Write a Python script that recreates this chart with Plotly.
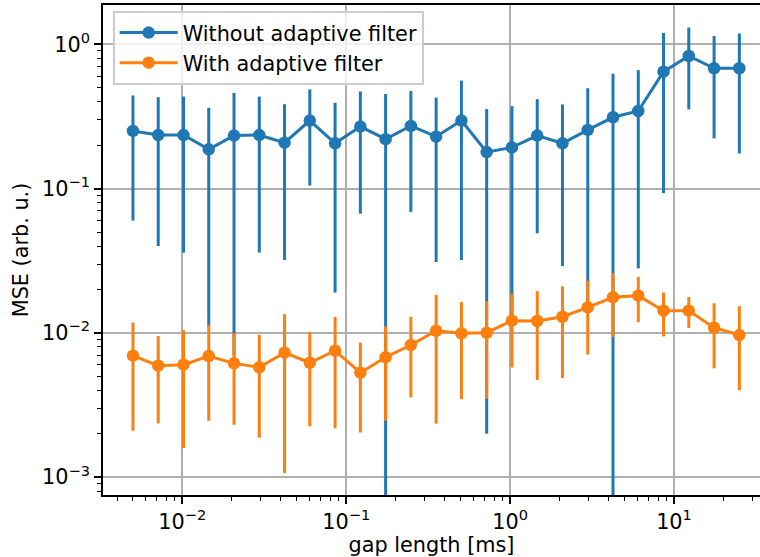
import plotly.graph_objects as go

gap_ms = [0.005, 0.00713, 0.01017, 0.0145, 0.02068, 0.02949, 0.04206, 0.05998,
          0.08554, 0.1220, 0.1740, 0.2481, 0.3538, 0.5046, 0.7196, 1.026,
          1.464, 2.087, 2.977, 4.245, 6.054, 8.633, 12.31, 17.56, 25.04]

mse_without = [0.251, 0.235, 0.235, 0.187, 0.233, 0.235, 0.208, 0.296, 0.206,
               0.269, 0.220, 0.272, 0.229, 0.296, 0.179, 0.193, 0.233, 0.206,
               0.255, 0.312, 0.345, 0.646, 0.830, 0.682, 0.682]
std_without = [0.191, 0.195, 0.199, 0.176, 0.226, 0.199, 0.176, 0.191, 0.187,
               0.202, 0.232, 0.203, 0.198, 0.264, 0.177, 0.180, 0.184, 0.177,
               0.241, 0.314, 0.317, 0.553, 0.476, 0.459, 0.507]

mse_with = [0.00695, 0.00593, 0.00602, 0.00692, 0.00615, 0.00578, 0.00729,
            0.00621, 0.00753, 0.00530, 0.00678, 0.00824, 0.01035, 0.00993,
            0.01003, 0.01215, 0.01209, 0.01294, 0.01503, 0.01765, 0.01812,
            0.01425, 0.01425, 0.01086, 0.00966]
std_with = [0.00485, 0.00357, 0.00443, 0.00446, 0.00384, 0.00390, 0.00622,
            0.00396, 0.00535, 0.00326, 0.00432, 0.00467, 0.00800, 0.00645,
            0.00654, 0.00639, 0.00737, 0.00808, 0.00795, 0.00828, 0.00628,
            0.00480, 0.00346, 0.00518, 0.00565]

names = ["Without adaptive filter", "With adaptive filter"]
colors = ["#1f77b4", "#ff7f0e"]

y_tickvals = [0.001, 0.01, 0.1, 1]
y_ticktext = ["10<sup>\u22123</sup>", "10<sup>\u22122</sup>", "10<sup>\u22121</sup>", "10<sup>0</sup>"]
x_tickvals = [0.01, 0.1, 1, 10]
x_ticktext = ["10<sup>\u22122</sup>", "10<sup>\u22121</sup>", "10<sup>0</sup>", "10<sup>1</sup>"]

FONT = "DejaVu Sans"
FS = 20.8

fig = go.Figure()
for name, col, y, s in [(names[0], colors[0], mse_without, std_without),
                        (names[1], colors[1], mse_with, std_with)]:
    fig.add_trace(go.Scatter(
        x=gap_ms, y=y, name=name, mode="lines+markers",
        line=dict(color=col, width=3),
        marker=dict(color=col, size=12.5),
        error_y=dict(type="data", array=s, symmetric=True, color=col,
                     thickness=3, width=0),
    ))

axis_common = dict(
    type="log", showline=True, linecolor="black", linewidth=1.6,
    ticks="outside", ticklen=7, tickwidth=1.6, tickcolor="black",
    showgrid=True, gridcolor="#b0b0b0", gridwidth=1.6,
    zeroline=False, automargin=False,
    tickfont=dict(family=FONT, size=FS, color="black"),
    minor=dict(ticks="outside", ticklen=4, tickwidth=1.2, tickcolor="black",
               dtick="D1", showgrid=False),
)

fig.update_xaxes(**axis_common, mirror=True, range=[-2.4838, 1.5247], tickmode="array",
                 tickvals=x_tickvals, ticktext=x_ticktext,
                 title=dict(text="gap length [ms]", font=dict(family=FONT, size=FS, color="black"),
                            standoff=4))
fig.update_yaxes(**axis_common, mirror=False, range=[-3.1234, 0.2723], tickmode="array",
                 tickvals=y_tickvals, ticktext=y_ticktext,
                 title=dict(text="MSE (arb. u.)", font=dict(family=FONT, size=FS, color="black"),
                            standoff=8))

fig.update_layout(
    width=760, height=557,
    margin=dict(l=103, r=0, t=5, b=62),
    paper_bgcolor="white", plot_bgcolor="white",
    font=dict(family=FONT, size=FS, color="black"),
    legend=dict(x=0.0153, y=0.9878, xanchor="left", yanchor="top",
                bgcolor="rgba(255,255,255,0.8)", bordercolor="#cccccc", borderwidth=1.6,
                font=dict(family=FONT, size=FS, color="black"),
                tracegroupgap=0, itemwidth=58),
    showlegend=True,
)

fig.write_html("out.html", config={"displayModeBar": False},
               post_script="document.body.style.margin='0px';document.body.style.padding='0px';")
